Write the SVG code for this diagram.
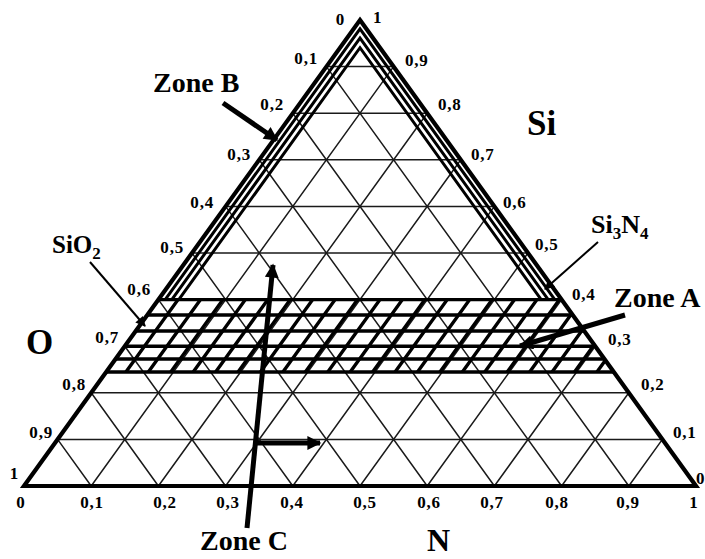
<svg xmlns="http://www.w3.org/2000/svg" width="705" height="559" viewBox="0 0 705 559">
<style>
text{font-family:"Liberation Serif","Times New Roman",serif;font-weight:bold;fill:#000}
.t{font-size:17px;letter-spacing:0.8px}
.big{font-size:28px}
.el{font-size:35px}
.grid{stroke:#1a1a1a;stroke-width:1.5;fill:none}
.hatch{stroke:#000;stroke-width:3.4;fill:none}
.zb{stroke:#000;stroke-width:3;fill:none;stroke-linejoin:miter}
.outer{stroke:#000;stroke-width:4.2;fill:none;stroke-linejoin:miter}
.thick{stroke:#000;stroke-width:5;fill:none}
.thin{stroke:#000;stroke-width:2;fill:none}
</style>
<defs>
<marker id="hb" viewBox="0 0 10 10" refX="9" refY="5" markerWidth="16" markerHeight="14" markerUnits="userSpaceOnUse" orient="auto"><path d="M0,0L10,5L0,10z" fill="#000"/></marker>
<marker id="hs" viewBox="0 0 10 10" refX="9" refY="5" markerWidth="13" markerHeight="10" markerUnits="userSpaceOnUse" orient="auto"><path d="M0,0L10,5L0,10z" fill="#000"/></marker>
<clipPath id="band"><polygon points="106.2,372 158.4,299.6 561.6,299.6 613.8,372"/></clipPath>
</defs>
<rect width="705" height="559" fill="#fff"/>
<g id="grid" class="grid">
<path d="M57.6,439.4H662.4M91.2,392.8H628.8M124.8,346.2H595.2M158.4,299.6H561.6M192,253H528M225.6,206.4H494.4M259.2,159.8H460.8M292.8,113.2H427.2M326.4,66.6H393.6"/>
<path d="M91.2,486L393.6,66.6M158.4,486L427.2,113.2M225.6,486L460.8,159.8M292.8,486L494.4,206.4M360,486L528,253M427.2,486L561.6,299.6M494.4,486L595.2,346.2M561.6,486L628.8,392.8M628.8,486L662.4,439.4"/>
<path d="M91.2,486L57.6,439.4M158.4,486L91.2,392.8M225.6,486L124.8,346.2M292.8,486L158.4,299.6M360,486L192,253M427.2,486L225.6,206.4M494.4,486L259.2,159.8M561.6,486L292.8,113.2M628.8,486L326.4,66.6"/>
</g>
<g id="zoneA">
<path class="hatch" d="M158.4,299.6H561.6M147.3,315H572.7M135.8,331H584.2M124.8,346.2H595.2M115.6,359H604.4M106.2,372H613.8"/>
<path class="hatch" clip-path="url(#band)" d="M81.04,372l52.2,-72.4M103.47,372l52.2,-72.4M125.9,372l52.2,-72.4M148.33,372l52.2,-72.4M170.76,372l52.2,-72.4M193.19,372l52.2,-72.4M215.62,372l52.2,-72.4M238.05,372l52.2,-72.4M260.48,372l52.2,-72.4M282.91,372l52.2,-72.4M305.34,372l52.2,-72.4M327.77,372l52.2,-72.4M350.2,372l52.2,-72.4M372.63,372l52.2,-72.4M395.06,372l52.2,-72.4M417.49,372l52.2,-72.4M439.92,372l52.2,-72.4M462.35,372l52.2,-72.4M484.78,372l52.2,-72.4M507.21,372l52.2,-72.4M529.64,372l52.2,-72.4M552.07,372l52.2,-72.4M574.5,372l52.2,-72.4M596.93,372l52.2,-72.4"/>
</g>
<g id="zoneB" class="zb">
<polyline points="165.2,299.6 360,28.9 554.8,299.6"/>
<polyline points="171.8,299.6 360,38.0 548.2,299.6"/>
<polyline points="178.8,299.6 360,47.7 541.2,299.6"/>
</g>
<g id="triangle"><polygon class="outer" points="360,20 696,486 24,486"/></g>
<g id="ticks" class="t">
<g text-anchor="end">
<text x="345" y="25">0</text><text x="318" y="64">0,1</text><text x="284" y="110">0,2</text><text x="251" y="160">0,3</text><text x="214" y="208">0,4</text><text x="184" y="253">0,5</text><text x="151" y="295">0,6</text><text x="119" y="343">0,7</text><text x="86" y="390">0,8</text><text x="53" y="438">0,9</text><text x="19" y="479">1</text>
</g>
<g>
<text x="373" y="23">1</text><text x="405" y="66">0,9</text><text x="438" y="110">0,8</text><text x="471" y="160">0,7</text><text x="503" y="208">0,6</text><text x="535" y="250">0,5</text><text x="572" y="300">0,4</text><text x="608" y="345">0,3</text><text x="641" y="390">0,2</text><text x="673" y="438">0,1</text><text x="696" y="484">0</text>
</g>
<g text-anchor="middle">
<text x="21" y="508">0</text><text x="92" y="508">0,1</text><text x="165" y="508">0,2</text><text x="228" y="508">0,3</text><text x="292" y="508">0,4</text><text x="365" y="508">0,5</text><text x="429" y="508">0,6</text><text x="492" y="508">0,7</text><text x="557" y="508">0,8</text><text x="628" y="508">0,9</text><text x="694" y="508">1</text>
</g>
</g>
<g id="label-Si"><text class="el" x="527" y="135">Si</text></g>
<g id="label-O"><text class="el" x="26" y="354">O</text></g>
<g id="label-N"><text x="427" y="551" font-size="32px">N</text></g>
<g id="label-ZoneB"><text class="big" x="153" y="92">Zone B</text></g>
<g id="label-ZoneA"><text class="big" x="614" y="307">Zone A</text></g>
<g id="label-ZoneC"><text class="big" x="200" y="550">Zone C</text></g>
<g id="label-SiO2"><text x="52" y="253" font-size="25px">SiO<tspan font-size="17px" dy="6">2</tspan></text></g>
<g id="label-Si3N4"><text x="591" y="233" font-size="26px">Si<tspan font-size="17px" dy="6">3</tspan><tspan dy="-6">N</tspan><tspan font-size="17px" dy="6">4</tspan></text></g>
<g id="connectors">
<line class="thick" x1="223" y1="103" x2="277" y2="140" marker-end="url(#hb)"/>
<line class="thin" x1="90" y1="262" x2="145" y2="326" marker-end="url(#hs)"/>
<line class="thin" x1="598" y1="242" x2="545" y2="289" marker-end="url(#hs)"/>
<line class="thick" x1="625" y1="315" x2="520" y2="346" marker-end="url(#hb)"/>
<line class="thick" x1="247" y1="528" x2="273" y2="265" marker-end="url(#hb)"/>
<line class="thick" x1="257" y1="443" x2="320" y2="443" marker-end="url(#hb)"/>
</g>
</svg>
